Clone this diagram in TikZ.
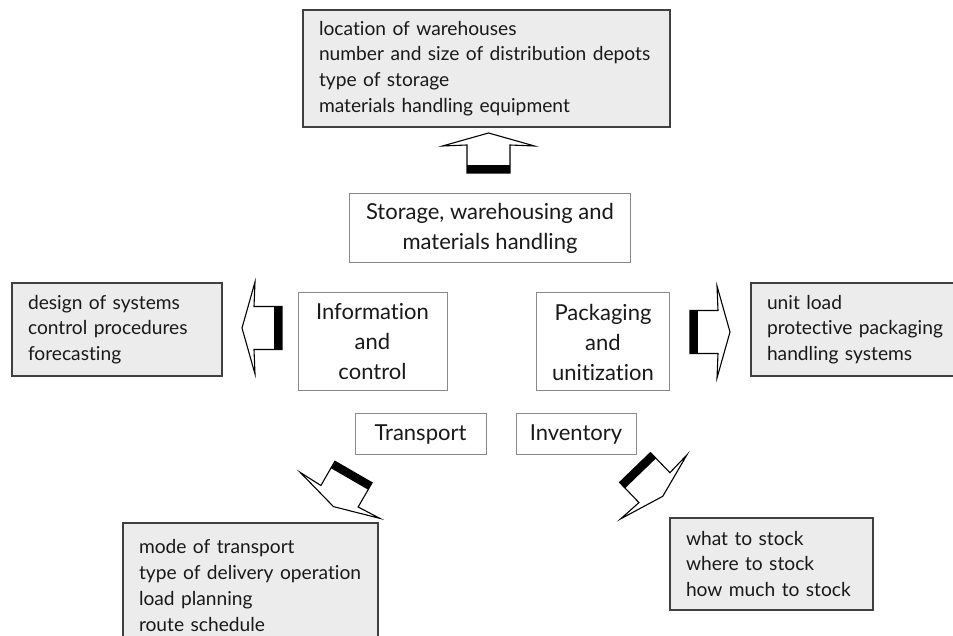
\documentclass[tikz,border=0pt]{standalone}
\usepackage{fontspec}
\setmainfont{Lato}[Ligatures=NoCommon]
\usepackage{xcolor}
\usepackage{tikz}
\usetikzlibrary{positioning}

\definecolor{boxgray}{HTML}{ECECEC}
\definecolor{edgegray}{HTML}{8A8A8A}
\newcommand{\listfont}{\fontsize{19.2}{25.8}\selectfont}
\newcommand{\mainfont}{\fontsize{22}{30}\selectfont}

\begin{document}
\begin{tikzpicture}[x=1pt, y=1pt,
    listbox/.style={rectangle, draw=black!75, line width=1.4pt, fill=boxgray, align=left, inner xsep=16pt, font=\listfont, text=black!90},
    areabox/.style={rectangle, draw=edgegray, line width=1pt, fill=white, align=center, font=\mainfont, text=black!90},
    blockarrow/.pic={
        \draw[line width=1.1pt, fill=white, line join=miter]
            (0,-21.5) -- (28,-21.5) -- (27,-46) -- (40,0) -- (27,46) -- (28,21.5) -- (0,21.5) -- cycle;
        \fill (0,-21.5) rectangle (8,21.5);
    }]

    \useasboundingbox (0,0) rectangle (953,636);

    % the five areas
    \node [areabox, minimum width=281, minimum height=69] (storage) at (490,407.5) {Storage, warehousing and\\materials handling};
    \node [areabox, minimum width=149, minimum height=98] (info) at (372.5,294) {Information\\and\\control};
    \node [areabox, minimum width=133, minimum height=98] (pack) at (603,294) {Packaging\\and\\unitization};
    \node [areabox, minimum width=131, minimum height=41] (transport) at (420.5,201.5) {Transport};
    \node [areabox, minimum width=120, minimum height=41] (inventory) at (576,201.5) {Inventory};

    % what each area decides
    \node [listbox, text width=335, minimum height=117] (storagelist) at (486.5,567.5) {location of warehouses\\number and size of distribution depots\\type of storage\\materials handling equipment};
    \node [listbox, text width=178, minimum height=93] (infolist) at (117,306.5) {design of systems\\control procedures\\forecasting};
    \node [listbox, text width=205, minimum height=93] (packlist) at (869.5,306.5) {unit load\\protective packaging\\handling systems};
    \node [listbox, text width=223, minimum height=125] (transportlist) at (250.5,50.5) {mode of transport\\type of delivery operation\\load planning\\route schedule};
    \node [listbox, text width=171, minimum height=92] (inventorylist) at (771.5,72) {what to stock\\where to stock\\how much to stock};

    % block arrows
    \pic [rotate=90] at (488.5,463) {blockarrow};
    \pic [rotate=180] at (282,308) {blockarrow};
    \pic at (690,304) {blockarrow};
    \pic [rotate=-120] at (353.5,164) {blockarrow};
    \pic [rotate=-46] at (635,168.5) {blockarrow};
\end{tikzpicture}
\end{document}
